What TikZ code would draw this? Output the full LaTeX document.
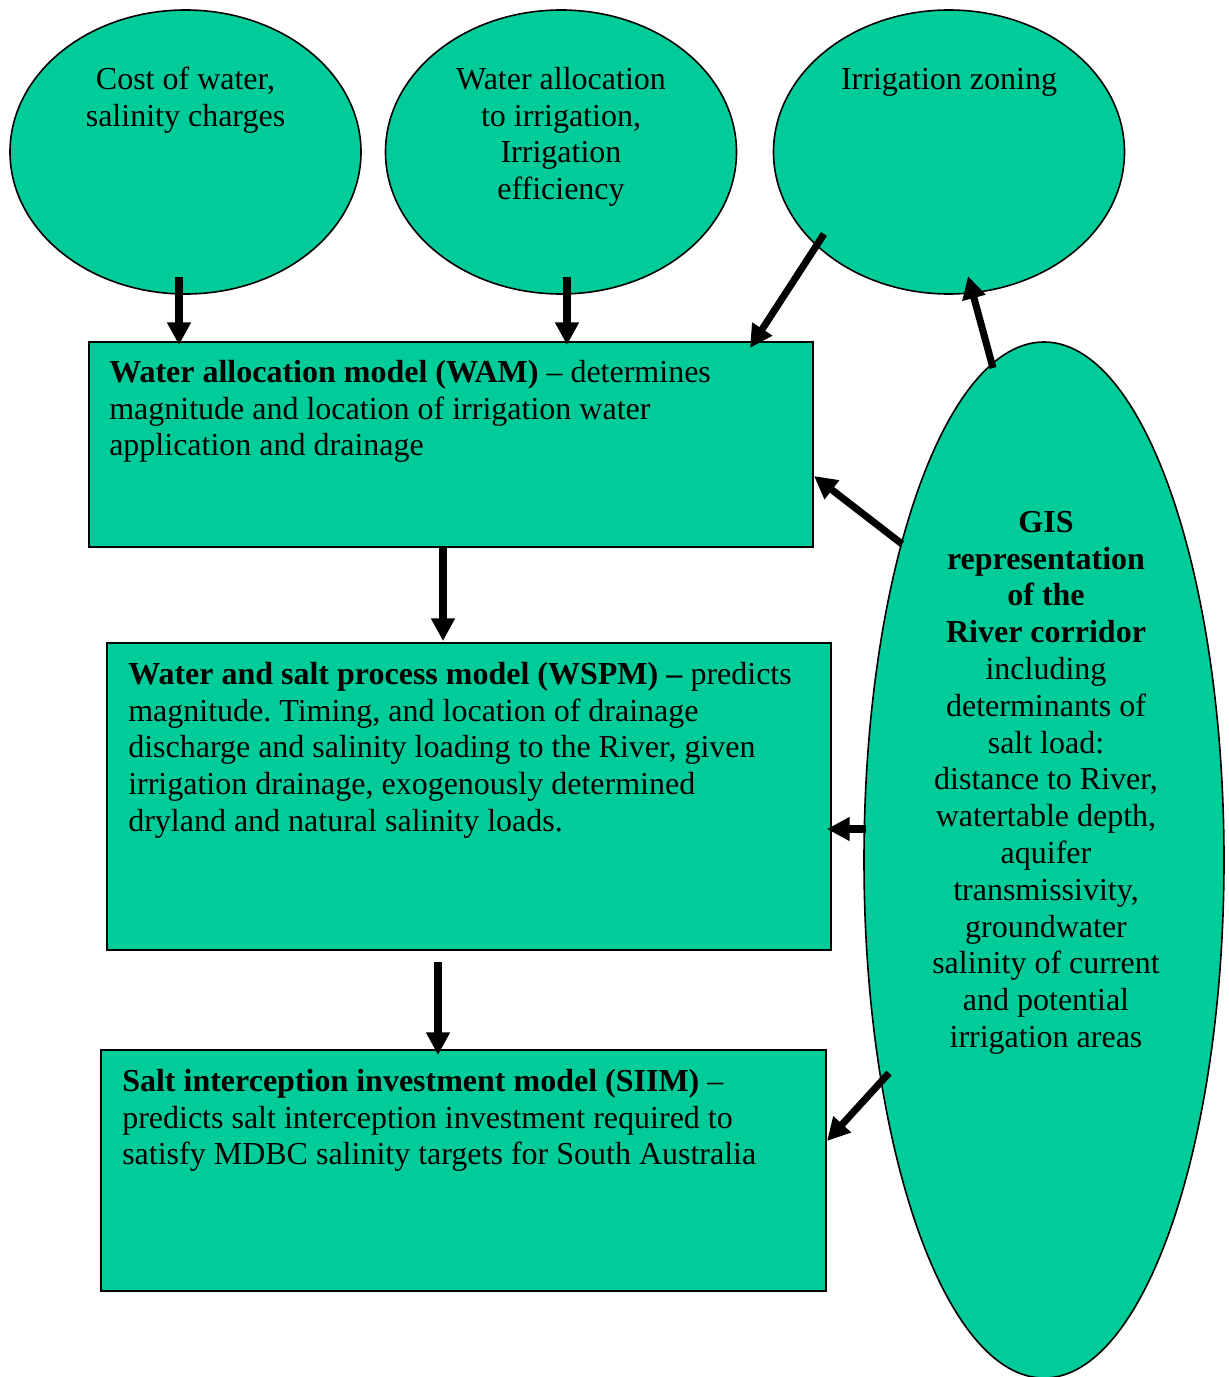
\documentclass[tikz,border=0pt]{standalone}
\usepackage{fontspec}
\setmainfont{Liberation Serif}
\frenchspacing
\usetikzlibrary{shapes.geometric,arrows.meta}
\definecolor{sea}{RGB}{0,204,153}
\tikzset{
  shapeline/.style={draw=black, line width=1.2pt, fill=sea, inner sep=0pt},
  oval/.style={shapeline, ellipse},
  boxnode/.style={shapeline, rectangle},
  txt/.style={inner sep=0pt, font=\fontsize{24}{27.6}\selectfont},
  ctxt/.style={txt, anchor=north, align=center},
  ltxt/.style={txt, anchor=north west, align=left},
  arr/.style={line width=5.3pt, -{Triangle[length=17pt,width=17pt]}}
}
\begin{document}
\begin{tikzpicture}[x=0.75pt,y=-0.75pt]
\useasboundingbox (0,0) rectangle (1228,1377);
% ellipses
\node[oval, minimum width=263.25pt, minimum height=213pt] (e1) at (185.5,152) {};
\node[oval, minimum width=263.25pt, minimum height=213pt] (e2) at (561,152) {};
\node[oval, minimum width=263.25pt, minimum height=213pt] (e3) at (949,152) {};
\node[oval, minimum width=270pt, minimum height=777pt] (gis) at (1044,860) {};
% boxes
\node[boxnode, minimum width=543pt, minimum height=153.75pt] (wam) at (451,444.5) {};
\node[boxnode, minimum width=543pt, minimum height=230.25pt] (wspm) at (469,796.5) {};
\node[boxnode, minimum width=543.75pt, minimum height=180.75pt] (siim) at (463.5,1170.5) {};
% texts
\node[ctxt] (t1) at (185.5,63.2) {\strut Cost of water,\\salinity charges};
\node[ctxt] (t2) at (561,63.2) {\strut Water allocation\\to irrigation,\\Irrigation\\efficiency};
\node[ctxt] (t3) at (949,63.2) {\strut Irrigation zoning};
\node[ltxt] (twam) at (109,356.2) {\strut\textbf{Water allocation model (WAM)} – determines\\magnitude and location of irrigation water\\application and drainage};
\node[ltxt] (twspm) at (128,658.2) {\strut\textbf{Water and salt process model (WSPM) –} predicts\\magnitude. Timing, and location of drainage\\discharge and salinity loading to the River, given\\irrigation drainage, exogenously determined\\dryland and natural salinity loads.};
\node[ltxt] (tsiim) at (122,1065.2) {\strut\textbf{Salt interception investment model (SIIM)} –\\predicts salt interception investment required to\\satisfy MDBC salinity targets for South Australia};
\node[ctxt] (tgis) at (1046,506.2) {\strut\textbf{GIS}\\\textbf{representation}\\\textbf{of the}\\\textbf{River corridor}\\including\\determinants of\\salt load:\\distance to River,\\watertable depth,\\aquifer\\transmissivity,\\groundwater\\salinity of current\\and potential\\irrigation areas};
% connector end points
\coordinate (a1s) at (179,277);  \coordinate (a1e) at (179,345);
\coordinate (a2s) at (567,277);  \coordinate (a2e) at (567,345);
\coordinate (a3s) at (824,234);  \coordinate (a3e) at (750,348);
\coordinate (a4s) at (993,368);  \coordinate (a4e) at (968,276);
\coordinate (a5s) at (902,544);  \coordinate (a5e) at (814,476);
\coordinate (a6s) at (866,829);  \coordinate (a6e) at (827,829);
\coordinate (a7s) at (443,548);  \coordinate (a7e) at (443,641);
\coordinate (a8s) at (438,962);  \coordinate (a8e) at (438,1055);
\coordinate (a9s) at (889,1073); \coordinate (a9e) at (827,1141);
\foreach \i in {1,...,9} {\draw[arr] (a\i s) -- (a\i e);}
\end{tikzpicture}
\end{document}
